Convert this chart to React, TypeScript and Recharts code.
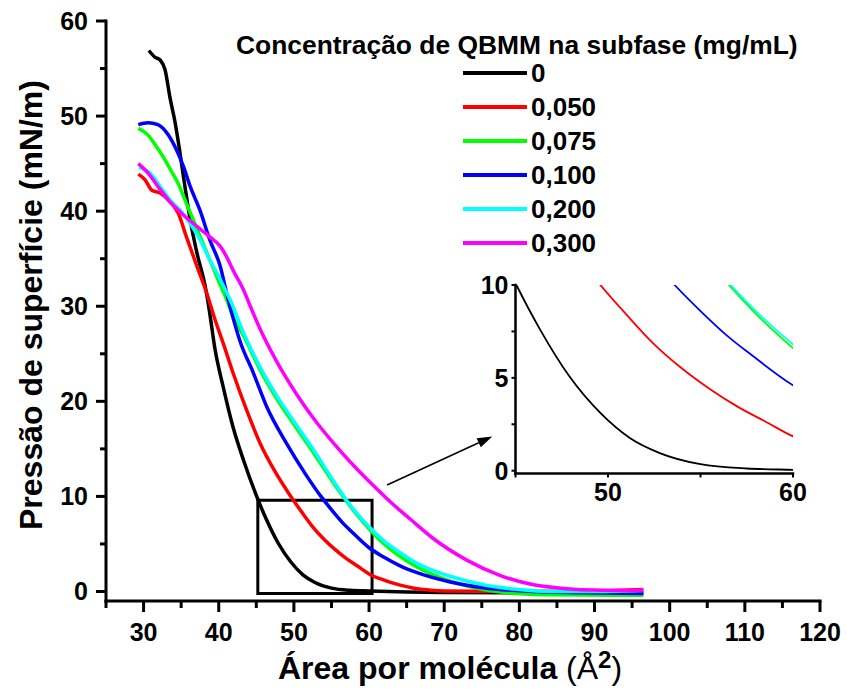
import React from "react";
import { LineChart, Line, XAxis, YAxis, ReferenceArea, ReferenceLine } from "recharts";

const FONT = '"Liberation Sans", Arial, Helvetica, sans-serif';

const concLabels = ["0", "0,050", "0,075", "0,100", "0,200", "0,300"];
const concColors = ["#000000", "#ff0000", "#00ff00", "#0000ff", "#00ffff", "#ff00ff"];

// isotherms: area per molecule (Å²) vs surface pressure (mN/m)
const area0 = [30.7, 31.5, 32.2, 32.85, 33.5, 34.2, 34.85, 35.5, 36.2, 37.1, 38.2, 38.7, 39.5, 40.6, 41.9, 43.3, 45.05, 46.3, 47.9, 49.6, 51.2, 52.8, 55, 57.5, 60, 70, 96.5];
const pi0 = [56.9, 56.2, 55.9, 54.9, 52.0, 49.3, 46.1, 42.6, 39.1, 35.6, 32.1, 29.8, 25.5, 21.5, 17.3, 13.8, 10.0, 7.65, 5.1, 3.1, 1.75, 0.95, 0.35, 0.12, 0.05, -0.1, -0.15];

const area050 = [29.3, 30.2, 31.1, 32.2, 33.5, 34.6, 35.7, 37.1, 38.4, 39.5, 40.6, 41.9, 43.7, 45.5, 47.5, 49.5, 51, 52.5, 54, 55.5, 57, 58.5, 60, 62, 64, 66, 68, 70, 80, 90, 96.5];
const pi050 = [43.9, 43.3, 42.2, 41.9, 41.0, 39.8, 37.3, 34.2, 31.4, 28.6, 26.1, 23.0, 19.1, 15.6, 12.6, 10.1, 8.4, 6.8, 5.5, 4.4, 3.45, 2.65, 1.85, 1.2, 0.7, 0.35, 0.15, 0.05, 0.0, 0.05, 0.2];

const area075 = [29.3, 30.6, 31.7, 32.85, 33.7, 34.6, 35.5, 36.6, 37.7, 38.8, 39.9, 41.05, 42.0, 43.3, 45.5, 47.7, 49.9, 52.6, 55.2, 57, 58.3, 60, 62, 64.1, 66.3, 70.8, 75.2, 79.6, 85, 96.5];
const pi075 = [48.7, 48.0, 46.8, 45.4, 44.2, 42.9, 41.2, 39.1, 37.0, 34.9, 32.8, 30.7, 28.7, 26.9, 23.3, 20.3, 17.7, 14.6, 11.5, 9.5, 8.15, 6.6, 5.0, 3.7, 2.6, 1.1, 0.2, -0.2, -0.35, -0.4];

const area100 = [29.3, 30.6, 31.9, 33.3, 34.4, 35.3, 36.2, 37.5, 38.8, 40.2, 41.05, 41.9, 42.8, 44.6, 46.4, 49, 51.5, 53.6, 55.1, 56.4, 57.8, 60, 62, 64, 66.3, 70.8, 75.2, 81.9, 90, 96.5];
const pi100 = [49.1, 49.3, 49.1, 48.0, 46.4, 44.7, 42.6, 40.1, 37.0, 34.2, 31.4, 28.8, 26.4, 23.0, 19.4, 15.6, 12.4, 10.0, 8.5, 7.3, 6.2, 4.6, 3.6, 2.75, 2.0, 1.0, 0.4, 0.0, -0.15, -0.2];

const area200 = [29.4, 30.85, 32.2, 33.5, 34.85, 36.2, 37.5, 38.8, 40.2, 41.5, 43.3, 45.5, 47.7, 49.9, 52.6, 55.2, 57, 58.3, 60, 62, 64.1, 66.3, 70.8, 75.2, 79.6, 84.1, 90, 96.5];
const pi200 = [44.6, 44.0, 42.6, 41.2, 40.1, 38.7, 37.0, 34.9, 32.8, 30.7, 27.2, 23.6, 20.6, 18.0, 14.9, 11.7, 9.6, 8.3, 6.8, 5.3, 4.1, 3.0, 1.6, 0.7, 0.23, 0.0, 0.0, 0.1];

const area300 = [29.3, 30.6, 31.9, 33.5, 35.3, 37.1, 38.8, 40.2, 41.05, 41.9, 43.3, 44.2, 45.5, 47.7, 50.4, 53, 55.5, 58, 60.5, 63, 65.5, 68.5, 73, 77.4, 81.9, 86.3, 90, 96.5];
const pi300 = [45.0, 44.0, 42.6, 41.0, 39.6, 38.4, 37.3, 36.3, 35.2, 33.8, 31.7, 30.0, 27.6, 24.2, 20.7, 17.8, 15.4, 13.2, 11.2, 9.3, 7.6, 5.6, 3.3, 1.7, 0.7, 0.3, 0.15, 0.1];

const xTicksMain = [25, 30, 35, 40, 45, 50, 55, 60, 65, 70, 75, 80, 85, 90, 95, 100, 105, 110, 115, 120];
const yTicksMain = [0, 5, 10, 15, 20, 25, 30, 35, 40, 45, 50, 55, 60];
const xTicksInset = [45, 50, 55, 60];
const yTicksInset = [0, 2.5, 5, 7.5, 10];

const toPoints = (xs: number[], ys: number[]) => xs.map((x, i) => ({ area: x, pi: ys[i] }));
const series = [
  toPoints(area0, pi0),
  toPoints(area050, pi050),
  toPoints(area075, pi075),
  toPoints(area100, pi100),
  toPoints(area200, pi200),
  toPoints(area300, pi300),
];

const AXIS = { stroke: "#000", strokeWidth: 3, strokeLinecap: "square" as const };
const AXIS_IN = { stroke: "#000", strokeWidth: 2.5, strokeLinecap: "square" as const };

// tick renderers: tickSize/tickMargin are 0, so (x, y) sits on the axis line
function makeTick(side: "bottom" | "left" | "top" | "right", major: number, minor: number, every: number, gap: number, fontSize: number, showLabel: boolean, width: number) {
  return function Tick(props: any) {
    const { x, y, payload } = props;
    const isMajor = Math.abs(payload.value / every - Math.round(payload.value / every)) < 1e-6;
    const len = isMajor ? major : minor;
    let line;
    let label = null;
    if (side === "bottom") {
      line = <line x1={x} x2={x} y1={y} y2={y + len} stroke="#000" strokeWidth={width} />;
      if (showLabel && isMajor)
        label = (
          <text x={x} y={y + gap} dy="0.36em" textAnchor="middle" fontFamily={FONT} fontWeight="bold" fontSize={fontSize} fill="#000">
            {payload.value}
          </text>
        );
    } else if (side === "left") {
      line = <line x1={x - len} x2={x} y1={y} y2={y} stroke="#000" strokeWidth={width} />;
      if (showLabel && isMajor)
        label = (
          <text x={x - gap} y={y} dy="0.36em" textAnchor="end" fontFamily={FONT} fontWeight="bold" fontSize={fontSize} fill="#000">
            {payload.value}
          </text>
        );
    } else if (side === "top") {
      line = <line x1={x} x2={x} y1={y - len} y2={y} stroke="#000" strokeWidth={width} />;
    } else {
      line = <line x1={x} x2={x + len} y1={y} y2={y} stroke="#000" strokeWidth={width} />;
    }
    return (
      <g>
        {line}
        {label}
      </g>
    );
  };
}

const MainBottomTick = makeTick("bottom", 11, 7, 10, 31, 25, true, 3);
const MainLeftTick = makeTick("left", 10, 6, 10, 18, 25, true, 3);
const MainTopTick = makeTick("top", 4, 3, 10, 0, 25, false, 2);
const MainRightTick = makeTick("right", 5, 3, 10, 0, 25, false, 2);
const InsetBottomTick = makeTick("bottom", 4, 4, 10, 18, 25, true, 2);
const InsetLeftTick = makeTick("left", 4, 4, 5, 7, 25, true, 2);
const InsetRightTick = makeTick("right", 4, 4, 5, 0, 25, false, 2);

function ArrowShape(p: any) {
  const { x1, y1, x2, y2 } = p;
  const a = Math.atan2(y2 - y1, x2 - x1);
  const L = 15;
  const W = 5;
  const bx = x2 - L * Math.cos(a);
  const by = y2 - L * Math.sin(a);
  const pts = `${x2},${y2} ${bx + W * Math.sin(a)},${by - W * Math.cos(a)} ${bx - W * Math.sin(a)},${by + W * Math.cos(a)}`;
  return (
    <g>
      <line x1={x1} y1={y1} x2={bx} y2={by} stroke="#000" strokeWidth={1.5} />
      <polygon points={pts} fill="#000" />
    </g>
  );
}

function YTitle(props: any) {
  const vb = props.viewBox;
  const cx = vb.x + 42;
  const cy = vb.y + vb.height / 2 - 6;
  return (
    <text x={cx} y={cy} transform={`rotate(-90, ${cx}, ${cy})`} textAnchor="middle" fontFamily={FONT} fontWeight="bold" fontSize={32} fill="#000">
      Pressão de superfície (mN/m)
    </text>
  );
}

function XTitle(props: any) {
  const vb = props.viewBox;
  return (
    <text x={vb.x + 172} y={vb.y + 78} fontFamily={FONT} fontWeight="bold" fontSize={32} fill="#000">
      Área por molécula <tspan fontWeight="normal">(Å</tspan>
      <tspan fontWeight="bold" fontSize={24} dy={-11}>2</tspan>
      <tspan fontWeight="normal" dy={11}>)</tspan>
    </text>
  );
}

export default function App() {
  return (
    <div style={{ position: "absolute", left: 0, top: 0, width: 847, height: 695, background: "#fff" }}>
      <LineChart width={847} height={695} margin={{ top: 21, right: 27, bottom: 0, left: 0 }}>
        <XAxis
          xAxisId="b"
          type="number"
          dataKey="area"
          domain={[25, 120]}
          ticks={xTicksMain}
          interval={0}
          height={94}
          allowDataOverflow
          axisLine={AXIS}
          tickLine={false}
          tickSize={0}
          tickMargin={0}
          tick={<MainBottomTick />}
          label={<XTitle />}
        />
        <XAxis
          xAxisId="t"
          orientation="top"
          type="number"
          domain={[25, 120]}
          ticks={xTicksMain}
          interval={0}
          height={0}
          axisLine={AXIS}
          tickLine={false}
          tickSize={0}
          tickMargin={0}
          tick={<MainTopTick />}
        />
        <YAxis
          yAxisId="l"
          type="number"
          domain={[-1, 60]}
          ticks={yTicksMain}
          interval={0}
          width={106}
          allowDataOverflow
          axisLine={AXIS}
          tickLine={false}
          tickSize={0}
          tickMargin={0}
          tick={<MainLeftTick />}
          label={<YTitle />}
        />
        <YAxis
          yAxisId="r"
          orientation="right"
          type="number"
          domain={[-1, 60]}
          ticks={yTicksMain}
          interval={0}
          width={0}
          axisLine={AXIS}
          tickLine={false}
          tickSize={0}
          tickMargin={0}
          tick={<MainRightTick />}
        />
        <ReferenceArea
          xAxisId="b"
          yAxisId="l"
          x1={45.2}
          x2={60.4}
          y1={-0.2}
          y2={9.6}
          fill="#fff"
          fillOpacity={0}
          stroke="#000"
          strokeWidth={3}
          strokeOpacity={1}
          ifOverflow="visible"
        />
        <ReferenceLine
          xAxisId="b"
          yAxisId="l"
          segment={[
            { x: 62.4, y: 11.2 },
            { x: 76.4, y: 16.3 },
          ]}
          shape={ArrowShape}
          ifOverflow="visible"
        />
        {series.map((d, i) => (
          <Line
            key={concLabels[i]}
            xAxisId="b"
            yAxisId="l"
            data={d}
            dataKey="pi"
            type="monotone"
            stroke={concColors[i]}
            strokeWidth={3.5}
            dot={false}
            isAnimationActive={false}
          />
        ))}
      </LineChart>

      <div style={{ position: "absolute", left: 460, top: 270 }}>
        <LineChart width={350} height={250} margin={{ top: 15, right: 17, bottom: 0, left: 0 }}>
          <XAxis
            xAxisId="b"
            type="number"
            dataKey="area"
            domain={[45, 60]}
            ticks={xTicksInset}
            interval={0}
            height={46.5}
            allowDataOverflow
            axisLine={AXIS_IN}
            tickLine={false}
            tickSize={0}
            tickMargin={0}
            tick={<InsetBottomTick />}
          />
          <XAxis
            xAxisId="t"
            orientation="top"
            type="number"
            domain={[45, 60]}
            height={0}
            axisLine={AXIS_IN}
            tick={false}
            tickLine={false}
          />
          <YAxis
            yAxisId="l"
            type="number"
            domain={[-0.15, 10]}
            ticks={yTicksInset}
            interval={0}
            width={55.5}
            allowDataOverflow
            axisLine={AXIS_IN}
            tickLine={false}
            tickSize={0}
            tickMargin={0}
            tick={<InsetLeftTick />}
          />
          <YAxis
            yAxisId="r"
            orientation="right"
            type="number"
            domain={[-0.15, 10]}
            ticks={yTicksInset}
            interval={0}
            width={0}
            axisLine={AXIS_IN}
            tickLine={false}
            tickSize={0}
            tickMargin={0}
            tick={<InsetRightTick />}
          />
          {series.map((d, i) => (
            <Line
              key={concLabels[i]}
              xAxisId="b"
              yAxisId="l"
              data={d}
              dataKey="pi"
              type="monotone"
              stroke={concColors[i]}
              strokeWidth={1.8}
              dot={false}
              isAnimationActive={false}
            />
          ))}
        </LineChart>
      </div>

      <div style={{ position: "absolute", left: 0, top: 0, fontFamily: FONT, fontWeight: "bold", fontSize: 26, color: "#000", whiteSpace: "nowrap" }}>
        <div style={{ position: "absolute", left: 236, top: 28, lineHeight: "34px", fontSize: 26.4 }}>Concentração de QBMM na subfase (mg/mL)</div>
        {concLabels.map((lab, i) => (
          <div key={lab} style={{ position: "absolute", left: 463, top: 56 + i * 34, height: 34, display: "flex", alignItems: "center" }}>
            <span style={{ display: "inline-block", width: 64, height: 4, background: concColors[i], marginRight: 4 }} />
            <span style={{ lineHeight: "34px" }}>{lab}</span>
          </div>
        ))}
      </div>
    </div>
  );
}
